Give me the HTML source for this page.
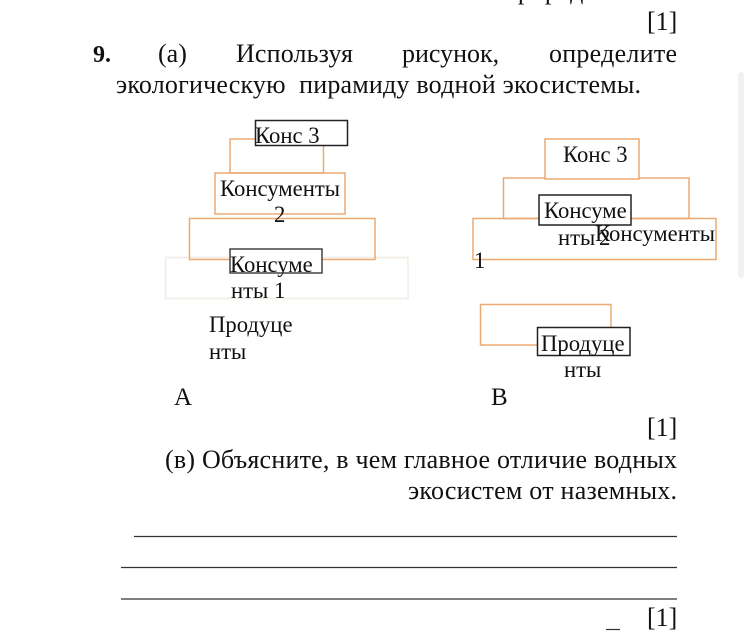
<!DOCTYPE html>
<html lang="ru">
<head>
<meta charset="utf-8">
<style>
html,body{margin:0;padding:0;background:#fff;width:750px;height:638px;overflow:hidden}
svg{display:block}
text{font-family:"Liberation Serif","Noto Serif CJK SC",serif;font-size:26px;fill:#111;white-space:pre}
text.d{font-size:22.7px}
.o{fill:none;stroke:#ecaa72;stroke-width:1.5}
.k{fill:#fff;stroke:#222;stroke-width:1.5}
.l{stroke:#333;stroke-width:1.2}
</style>
</head>
<body>
<svg width="750" height="638" viewBox="0 0 750 638" xmlns="http://www.w3.org/2000/svg">
<rect x="738" y="72" width="6" height="206" rx="3" fill="#f1f1f1"/>

<text x="504" y="-1">природе</text>
<text x="647" y="30">[1]</text>
<text x="93" y="62" style="font-weight:bold;font-size:24px">9.</text>
<text x="158" y="62">(а)</text>
<text x="236" y="62" textLength="117" lengthAdjust="spacing">Используя</text>
<text x="402" y="62">рисунок,</text>
<text x="549" y="62" textLength="128" lengthAdjust="spacing">определите</text>
<text x="116" y="93" textLength="525" lengthAdjust="spacing">экологическую  пирамиду водной экосистемы.</text>

<!-- Pyramid A -->
<rect x="165.5" y="257.5" width="242.5" height="41" fill="none" stroke="#f3ece4" stroke-width="1.5"/>
<rect class="o" x="189.5" y="218.5" width="185.5" height="41"/>
<rect class="o" x="215" y="173" width="130" height="41"/>
<rect class="o" x="230" y="139" width="93.5" height="34"/>
<rect class="k" x="255.5" y="120.5" width="92" height="25"/>
<rect x="230" y="249" width="92" height="24" fill="#fff" stroke="#444" stroke-width="1.5"/>
<text class="d" x="255" y="143">Конс 3</text>
<text class="d" x="220" y="196">Консументы</text>
<text class="d" x="274" y="222">2</text>
<text class="d" x="230" y="272">Консуме</text>
<text class="d" x="231" y="298">нты 1</text>
<text class="d" x="209" y="332">Продуце</text>
<text class="d" x="209" y="359">нты</text>
<text x="174" y="405" style="font-size:25px">А</text>

<!-- Pyramid B -->
<rect class="o" x="473" y="218.5" width="243" height="41"/>
<rect class="o" x="503.5" y="178" width="185.5" height="40.5"/>
<rect x="545" y="139" width="94" height="40" fill="#fff" stroke="#ecaa72" stroke-width="1.5"/>
<rect class="k" x="539" y="195" width="92" height="30"/>
<rect class="o" x="480.5" y="304.5" width="130.5" height="40.5"/>
<rect class="k" x="537.5" y="327.5" width="92.5" height="28"/>
<text class="d" x="563" y="162">Конс 3</text>
<text class="d" x="544" y="218">Консуме</text>
<text class="d" x="558" y="245">нты</text>
<text class="d" x="599" y="245">2</text>
<text class="d" x="595" y="241">Консументы</text>
<text class="d" x="474" y="268">1</text>
<text class="d" x="541" y="351">Продуце</text>
<text class="d" x="564" y="377">нты</text>
<text x="491" y="405" style="font-size:25px">В</text>

<text x="647" y="436">[1]</text>
<text x="165" y="468" textLength="512" lengthAdjust="spacing">(в) Объясните, в чем главное отличие водных</text>
<text x="408" y="499" textLength="269" lengthAdjust="spacing">экосистем от наземных.</text>

<line class="l" x1="134" y1="536.5" x2="677" y2="536.5"/>
<line class="l" x1="121" y1="567.5" x2="677" y2="567.5"/>
<line class="l" x1="121" y1="599" x2="677" y2="599"/>
<line class="l" x1="606" y1="629.5" x2="620" y2="629.5"/>
<text x="647" y="626">[1]</text>
</svg>
</body>
</html>
